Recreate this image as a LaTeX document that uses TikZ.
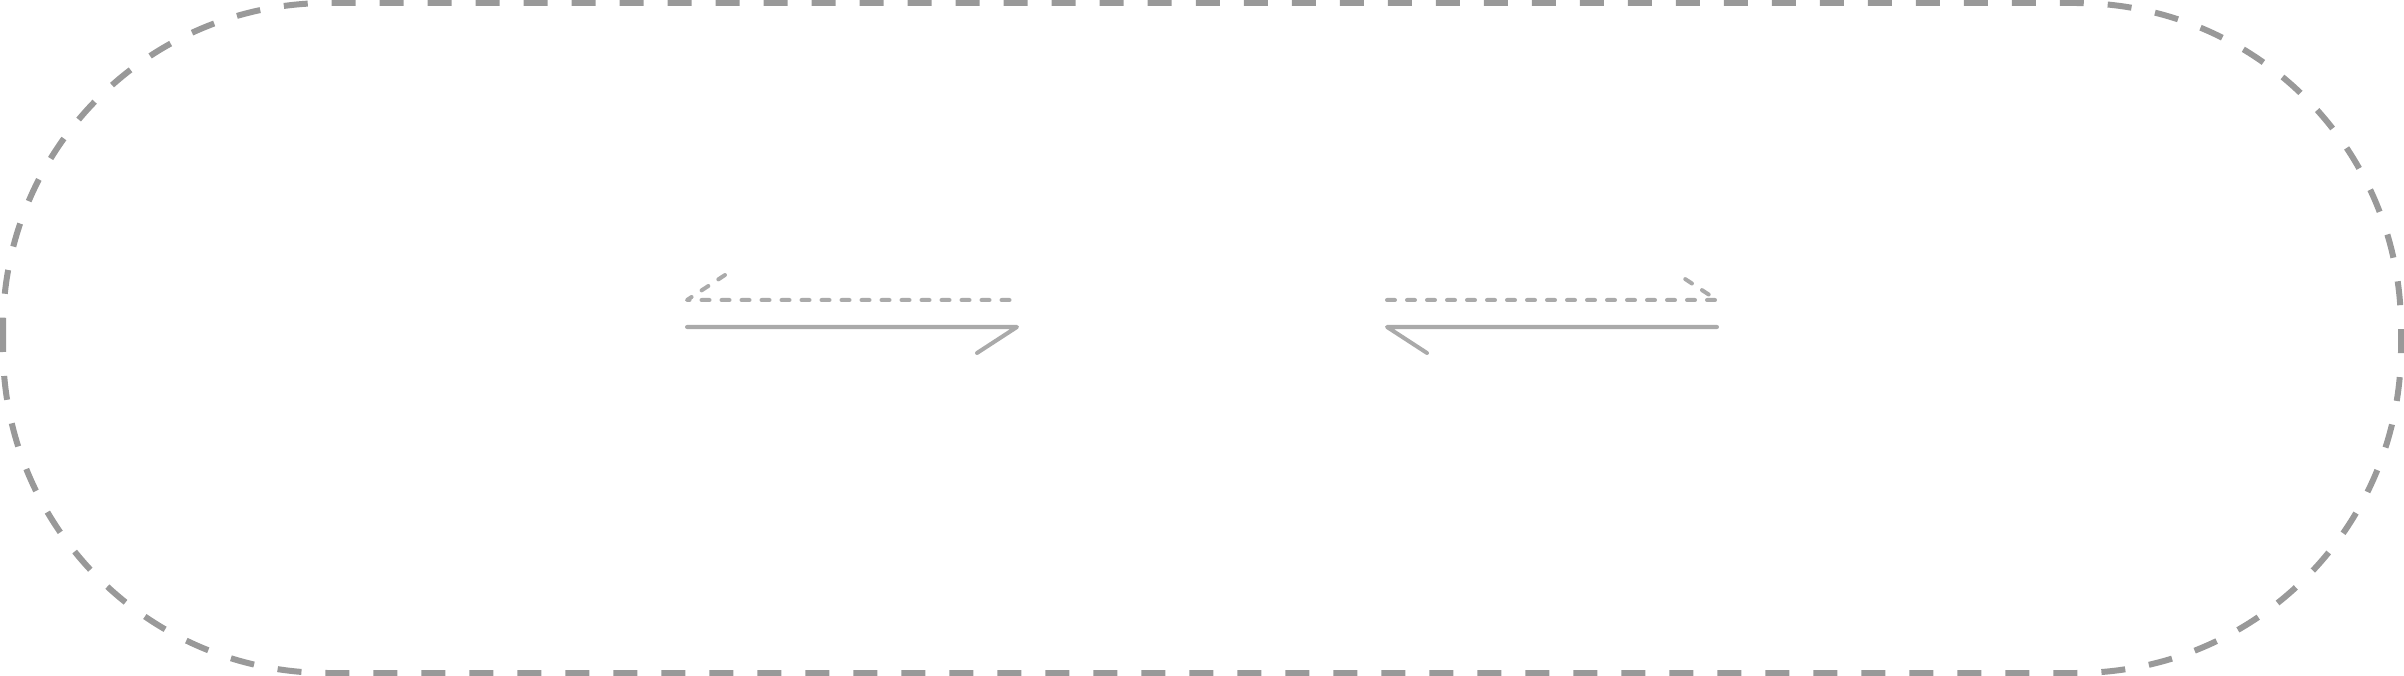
\documentclass[tikz,border=0pt]{standalone}
\usetikzlibrary{calc}
\definecolor{bordergray}{HTML}{999999}
\definecolor{arrowgray}{HTML}{AAAAAA}
\tikzset{
  outerframe/.style={draw=bordergray, line width=6pt, dash pattern=on 24pt off 24pt, rounded corners=325pt},
  solidharp/.style={draw=arrowgray, line width=4pt, line cap=round, line join=round},
  dashharp/.style={draw=arrowgray, line width=4pt, line cap=round, line join=round, dash pattern=on 8pt off 12pt}
}
\begin{document}
\begin{tikzpicture}[x=1pt, y=-1pt]
\useasboundingbox (0,0) rectangle (2404,676);
\draw[outerframe] (3,3) rectangle (2401,673);
% left pair
\coordinate (lda) at (687,300);
\coordinate (ldb) at (1017,300);
\coordinate (lsa) at (687,327);
\coordinate (lsb) at (1017,327);
\draw[dashharp] ($(lda)+(38,-25)$) -- (lda) -- (ldb);
\draw[solidharp] (lsa) -- (lsb) -- ++(-40,26);
% right pair
\coordinate (rda) at (1387,300);
\coordinate (rdb) at (1717,300);
\coordinate (rsa) at (1387,327);
\coordinate (rsb) at (1717,327);
\draw[dashharp] (rda) -- (rdb) -- ++(-38,-25);
\draw[solidharp] (rsb) -- (rsa) -- ++(40,26);
\end{tikzpicture}
\end{document}
